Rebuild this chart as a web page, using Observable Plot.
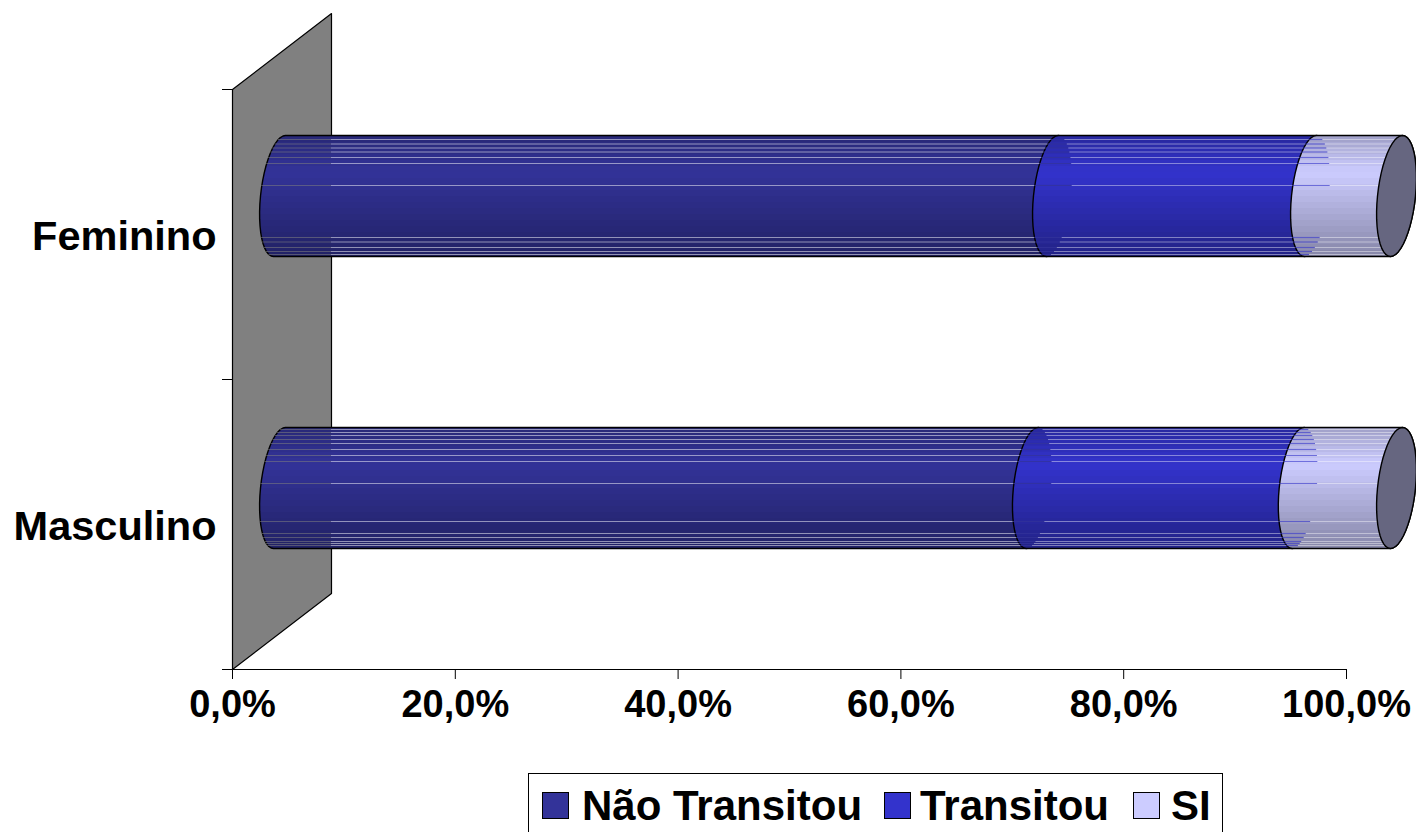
<!DOCTYPE html>
<html>
<head>
<meta charset="utf-8">
<script src="https://cdn.jsdelivr.net/npm/d3@7"></script>
<script src="https://cdn.jsdelivr.net/npm/@observablehq/plot@0.6"></script>
<style>
html,body{margin:0;padding:0;background:#fff;overflow:hidden}
svg{display:block}
#legend{position:relative;margin-left:528px;width:695px;height:66px;box-sizing:border-box;border:1.5px solid #000;font:bold 42px "Liberation Sans",Arial,sans-serif;color:#000;white-space:nowrap;line-height:1}
#legend .sw{position:absolute;top:18px;width:27px;height:27px;border:1.5px solid #000;box-sizing:border-box}
#legend .tx{position:absolute;top:11px}
</style>
</head>
<body>
<div id="chart"></div>
<div id="legend"></div>
<script>
const categories = ["Masculino", "Feminino"];
const seriesNames = ["Não Transitou", "Transitou", "SI"];
const naoTransitou = [67.4, 69.2];
const transitou = [23.8, 23.1];
const si = [8.8, 7.7];
const xTicks = [0, 20, 40, 60, 80, 100];
const seriesColors = ["#333399", "#3333CC", "#CCCCFF"];

// stripes (thin rendering seams of the cylinder), px below bar top
const stripes = {
  Feminino: [4, 8.5, 12.5, 16.5, 22, 28, 50, 102, 106.5, 112, 116, 119],
  Masculino: [2, 5, 8, 12, 16, 22, 28, 34, 56, 94, 106, 110, 114, 116, 118]
};

// geometry of the fake 3-D, in scale units (x: 11.14 px per %, y: 290 px per category)
const pxX = 1 / 11.14, pxY = 1 / 290;
const barCenter = {Feminino: (669 - 195.5) * pxY, Masculino: (669 - 487.5) * pxY};
const rx = 19 * pxX, shear = 6 * pxX, ry = 60.5 * pxY;
const wallDX = 99 * pxX, wallDY = 76 * pxY;
const cx = v => v * (1117 / 1114) + 47 * pxX;

const arc = (v, c, from, to, n = 24) => d3.range(n + 1).map(i => {
  const t = from + (to - from) * i / n;
  return {x: cx(v) + rx * Math.cos(t) + shear * Math.sin(t), y: c + ry * Math.sin(t)};
});
// x on the left (-1) or right (+1) side of the ring at v, at vertical offset h (px below top)
const ringX = (v, h, side) => {
  const k = 1 - h / 60.5;               // +1 top .. -1 bottom
  return cx(v) + shear * k + side * rx * Math.sqrt(Math.max(0, 1 - k * k));
};

const rows = categories.map((cat, i) => {
  const vals = [naoTransitou[i], transitou[i], si[i]];
  const cum = d3.cumsum(vals);
  return {cat, c: barCenter[cat], edges: [0, ...cum]};
});

const segments = rows.flatMap(r => seriesNames.map((s, k) => ({
  ...r, k,
  pts: [...arc(r.edges[k], r.c, Math.PI * 1.5, Math.PI * 0.5), ...arc(r.edges[k + 1], r.c, Math.PI * 0.5, -Math.PI * 0.5)]
})));

const wallEdge = wallDX;
const seams = rows.flatMap(r => stripes[r.cat].flatMap(h => {
  const y = r.c + (60.5 - h) * pxY;
  const out = [];
  r.edges.slice(0, 3).forEach((v, k) => {
    const next = r.edges[k + 1];
    const a = ringX(v, h, -1), b = ringX(v, h, 1), e = ringX(next, h, -1);
    if (k === 0) {
      out.push({y, x1: a, x2: wallEdge, stroke: "#808080", o: 0.55});
      out.push({y, x1: wallEdge, x2: e, stroke: "#ffffff", o: 0.5});
    } else {
      out.push({y, x1: a, x2: b, stroke: seriesColors[k - 1], o: k === 1 ? 0.75 : 0.6});
      out.push({y, x1: b, x2: e, stroke: "#ffffff", o: 0.42});
    }
  });
  return out;
}));

const gradientDefs = () => {
  const defs = d3.create("svg:defs");
  const shade = t => t < 0.3 ? 0.78 + 0.22 * (t / 0.3) : 1 - 0.34 * ((t - 0.3) / 0.7);
  seriesColors.forEach((col, k) => {
    const g = defs.append("linearGradient").attr("id", `seg${k}`).attr("x1", 0).attr("y1", 0).attr("x2", 0).attr("y2", 1);
    const n = 20;
    d3.range(n).forEach(i => {
      const c = d3.rgb(col);
      const m = shade((i + 0.5) / n);
      const f = `rgb(${c.r * m},${c.g * m},${c.b * m})`;
      g.append("stop").attr("offset", i / n).attr("stop-color", f);
      g.append("stop").attr("offset", (i + 1) / n).attr("stop-color", f);
    });
  });
  return defs.node();
};

const wall = [
  {x: 0, y: 0}, {x: wallDX, y: wallDY}, {x: wallDX, y: 2 + wallDY}, {x: 0, y: 2}
];

const chart = Plot.plot({
  width: 1416,
  height: 773,
  marginLeft: 232,
  marginRight: 70,
  marginTop: 89,
  marginBottom: 104,
  style: {background: "#fff", overflow: "visible", color: "#000"},
  x: {domain: [0, 100], label: null},
  y: {domain: [0, 2], label: null},
  color: {type: "identity"},
  marks: [
    gradientDefs,
    Plot.line(wall, {x: "x", y: "y", fill: "#808080", stroke: "#000", strokeWidth: 1.2, curve: "linear-closed"}),
    Plot.ruleY([0], {x1: 0, x2: 100, stroke: "#000", strokeWidth: 1.2}),
    Plot.axisX({
      ticks: xTicks, tickSize: 10, tickPadding: 11, label: null, fontSize: 38, fontWeight: "bold",
      fontFamily: "Liberation Sans", tickFormat: d => d.toFixed(1).replace(".", ",") + "%"
    }),
    Plot.axisY({ticks: [0, 1, 2], tickSize: 10, tickFormat: () => "", label: null}),
    Plot.text(categories, {
      x: () => 0, y: (d, i) => i + 0.5, text: d => d, textAnchor: "end", dx: -16, dy: 2,
      fontSize: 41.5, fontWeight: "bold", fontFamily: "Liberation Sans", fill: "#000"
    }),
    ...segments.map(s => Plot.line(s.pts, {
      x: "x", y: "y", fill: `url(#seg${s.k})`, stroke: "#000", strokeWidth: 1.4, curve: "linear-closed"
    })),
    Plot.ruleY(seams, {y: "y", x1: "x1", x2: "x2", stroke: "stroke", strokeOpacity: "o", strokeWidth: 1.2}),
    ...rows.map(r => Plot.line(arc(r.edges[3], r.c, 0, Math.PI * 2, 48), {
      x: "x", y: "y", fill: "#666680", stroke: "#000", strokeWidth: 1.4, curve: "linear-closed"
    }))
  ]
});
document.getElementById("chart").append(chart);

const legend = d3.select("#legend");
const swatchLeft = [13, 354.5, 604], textLeft = [53, 391, 642];
seriesNames.forEach((s, k) => {
  legend.append("span").attr("class", "sw").style("left", swatchLeft[k] + "px").style("background", seriesColors[k]);
  legend.append("span").attr("class", "tx").style("left", textLeft[k] + "px").text(s);
});
</script>
</body>
</html>
